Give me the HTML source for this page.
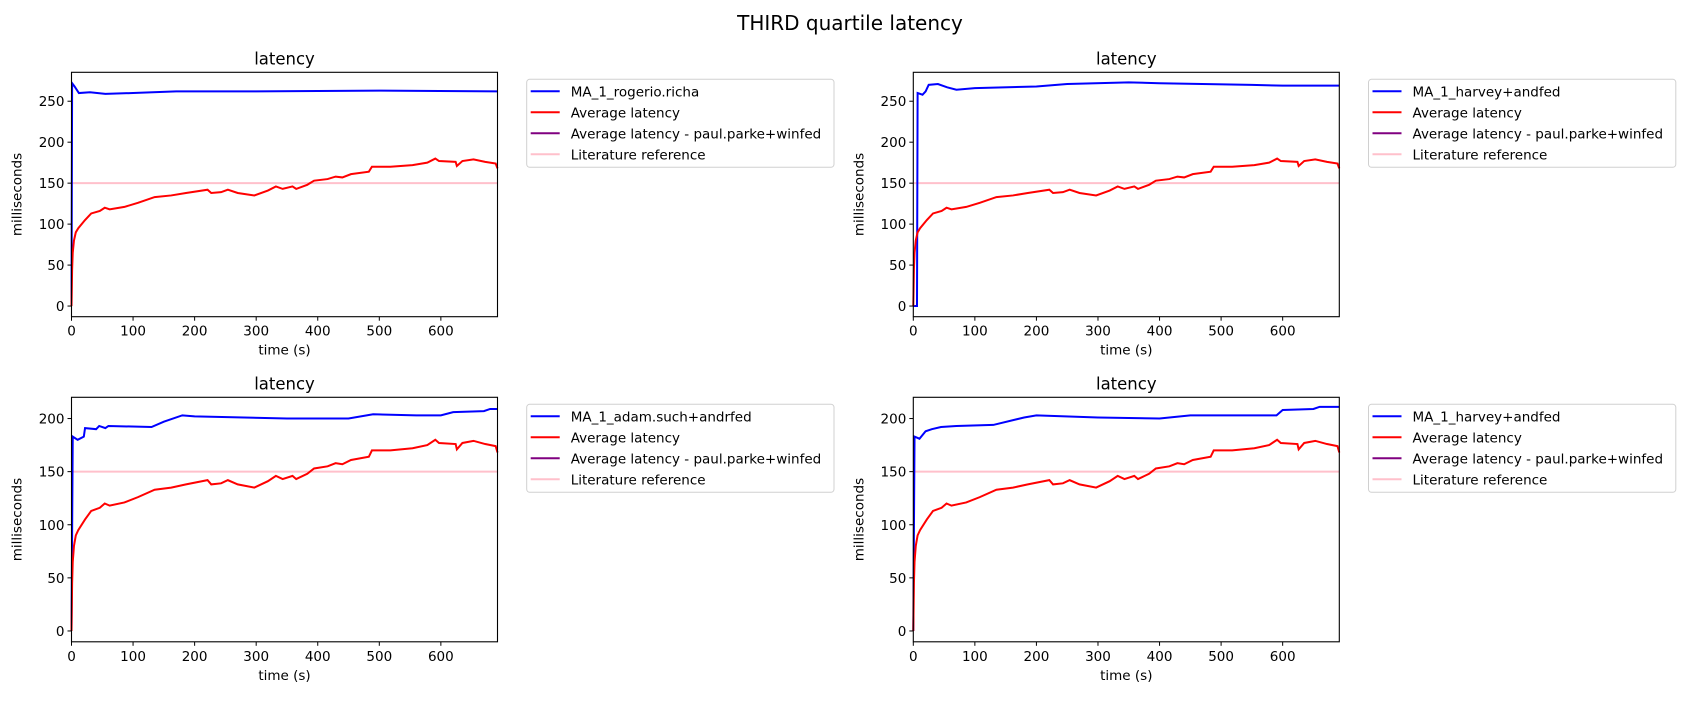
<!DOCTYPE html>
<html><head><meta charset="utf-8"><style>
body{margin:0;background:#fff;}
svg{font-family:"DejaVu Sans","Liberation Sans",sans-serif;}
</style></head><body>
<svg id="fig" width="1700" height="700" viewBox="0 0 1700 700">
<rect width="1700" height="700" fill="#fff"/>
<text x="850" y="30" text-anchor="middle" font-size="20">THIRD quartile latency</text>
</svg>
<script>
const avgT=[0,1,2,4,7,11,22,32,46,54,62,86,108,135,162,186,221,227,243,254,270,297,319,332,343,359,365,383,394,416,429,440,454,483,488,518,554,578,591,597,624,626,635,653,672,689,692];
const avgV=[0,45,65,80,90,95,105,113,116,120,118,121,126,133,135,138,142,138,139,142,138,135,141,146,143,146,143,148,153,155,158,157,161,164,170,170,172,175,180,177,176,171,177,179,176,174,168];
const b1T=[0,1,5,12,30,55,100,170,300,500,692];
const b1V=[0,272,268,260,261,259,260,262,262,263,262];
const b2T=[0,6,7,15,20,25,40,55,70,100,200,250,350,400,550,600,692];
const b2V=[0,0,260,258,262,270,271,267,264,266,268,271,273,272,270,269,269];
const b3T=[0,2,10,20,22,40,45,55,60,130,150,180,200,280,350,450,490,560,600,620,670,680,692];
const b3V=[0,183,180,183,191,190,193,191,193,192,197,203,202,201,200,200,204,203,203,206,207,209,209];
const b4T=[0,2,10,20,30,45,70,130,180,200,300,400,450,590,600,650,660,692];
const b4V=[0,183,181,188,190,192,193,194,201,203,201,200,203,203,208,209,211,211];
const names=["MA_1_rogerio.richa","MA_1_harvey+andfed","MA_1_adam.such+andrfed","MA_1_harvey+andfed"];
const litRef=150;
const xTicks=[0,100,200,300,400,500,600];
const yTicksTop=[0,50,100,150,200,250];
const yTicksBot=[0,50,100,150,200];
const NS="http://www.w3.org/2000/svg";
const fig=document.getElementById('fig');
function mk(tag,attrs,parent){const e=document.createElementNS(NS,tag);for(const k in attrs)e.setAttribute(k,attrs[k]);(parent||fig).appendChild(e);return e;}
const panels=[
 {L:71.5,T:72.3,B:316.7,ymin:-13,ymax:285.3,bt:b1T,bv:b1V,yt:yTicksTop},
 {L:913.3,T:72.3,B:316.7,ymin:-13,ymax:285.3,bt:b2T,bv:b2V,yt:yTicksTop},
 {L:71.5,T:397.3,B:641.8,ymin:-10.2,ymax:220,bt:b3T,bv:b3V,yt:yTicksBot},
 {L:913.3,T:397.3,B:641.8,ymin:-10.2,ymax:220,bt:b4T,bv:b4V,yt:yTicksBot}];
panels.forEach((p,i)=>{
 const W=426,xmax=692;
 const g=mk('g',{});
 
 
 const X=t=>p.L+t/xmax*W, Y=v=>p.B-(v-p.ymin)/(p.ymax-p.ymin)*(p.B-p.T);
 const t=mk('text',{x:p.L+W/2,y:p.T-8,'text-anchor':'middle','font-size':'16.5'},g);t.textContent='latency';
 
 
 const lit=mk('line',{x1:p.L,x2:p.L+W,y1:Y(litRef),y2:Y(litRef),stroke:'#ffc0cb','stroke-width':2},g);
 
 
 const bl=mk('polyline',{points:p.bt.map((tt,j)=>X(tt)+','+Y(p.bv[j])).join(' '),fill:'none',stroke:'#0000ff','stroke-width':2},g);
 
 
 const rl=mk('polyline',{points:avgT.map((tt,j)=>X(tt)+','+Y(avgV[j])).join(' '),fill:'none',stroke:'#ff0000','stroke-width':2},g);
 
 
 mk('rect',{x:p.L,y:p.T,width:W,height:p.B-p.T,fill:'none',stroke:'#000','stroke-width':1.1},g);
 xTicks.forEach(v=>{mk('line',{x1:X(v),x2:X(v),y1:p.B,y2:p.B+4,stroke:'#000'},g);
  const tx=mk('text',{x:X(v),y:p.B+19,'text-anchor':'middle','font-size':'13.5'},g);tx.textContent=v;
  
  });
 p.yt.forEach(v=>{mk('line',{x1:p.L-4,x2:p.L,y1:Y(v),y2:Y(v),stroke:'#000'},g);
  const ty=mk('text',{x:p.L-7,y:Y(v)+5,'text-anchor':'end','font-size':'13.5'},g);ty.textContent=v;
  
  });
 const xl=mk('text',{x:p.L+W/2,y:p.B+38,'text-anchor':'middle','font-size':'13.5'},g);xl.textContent='time (s)';
 
 
 const yx=p.L-50,yy=(p.T+p.B)/2;
 const yl=mk('text',{x:yx,y:yy,'text-anchor':'middle','font-size':'13.5',transform:`rotate(-90 ${yx} ${yy})`},g);yl.textContent='milliseconds';
 
 
 const lx=p.L+455.2, ly=p.T+7;
 const lg=mk('g',{},g);
 
 
 mk('rect',{x:lx,y:ly,width:307.3,height:88,rx:3,fill:'#fff',stroke:'#d0d0d0'},lg);
 const ent=[[names[i],'#0000ff'],['Average latency','#ff0000'],['Average latency - paul.parke+winfed','#800080'],['Literature reference','#ffc0cb']];
 ent.forEach((e,k)=>{const yy2=ly+12+k*21;
  const eg=mk('g',{},lg);
  
  
  mk('line',{x1:lx+4,x2:lx+33,y1:yy2,y2:yy2,stroke:e[1],'stroke-width':2},eg);
  const te=mk('text',{x:lx+44,y:yy2+5,'font-size':'13.5'},eg);te.textContent=e[0];});
});
</script>
</body></html>
